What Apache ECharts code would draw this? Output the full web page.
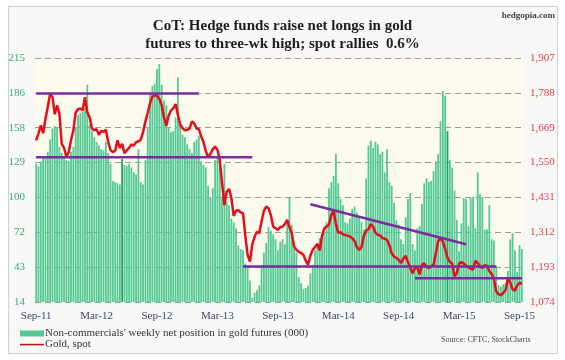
<!DOCTYPE html>
<html><head><meta charset="utf-8">
<script src="https://cdn.jsdelivr.net/npm/echarts@6/dist/echarts.min.js"></script>
<style>html,body{margin:0;padding:0;background:#fff}#c{width:565px;height:360px}</style>
</head><body><div id="c"></div>
<script>
// ---- data ----
const startDate = '2011-09-27';
const weekCount = 210;
const netPositions = [128,126,130,133,134,138,148,157,159,158,142,137,134,131,130,138,142,158,168,170,
171,174,193,160,155,150,146,143,140,139,146,137,128,114,113,112,111,132,127,126,
128,125,121,119,140,113,111,131,158,186,192,194,206,210,193,180,176,158,154,155,
166,199,160,152,150,144,140,137,146,148,151,130,127,125,110,100,108,131,133,130,
101,128,97,94,83,80,75,61,58,57,46,44,32,18,22,24,28,45,55,63,
76,73,70,66,57,64,66,62,79,100,78,63,55,35,30,25,26,28,38,45,
57,63,67,69,72,80,108,113,118,136,112,99,94,80,79,83,91,93,88,84,
80,74,116,143,147,141,146,144,136,138,121,140,113,110,96,82,78,66,62,84,
99,104,62,57,75,77,95,112,116,113,114,122,130,136,163,188,184,155,131,125,
106,82,56,79,100,99,77,100,101,75,121,103,101,74,74,94,66,65,44,28,
27,29,30,40,66,71,57,39,61,58];
const goldSpot = [1626,1650,1677,1650,1700,1740,1785,1775,1715,1745,1717,1614,1600,1570,1585,1626,1660,1720,1732,1735,
1728,1773,1722,1705,1666,1660,1664,1645,1658,1655,1662,1620,1592,1586,1590,1626,1600,1614,1582,1592,
1600,1612,1608,1620,1622,1628,1654,1690,1720,1752,1775,1780,1778,1768,1745,1705,1676,1710,1728,1735,
1750,1712,1680,1668,1660,1662,1666,1690,1684,1666,1664,1640,1620,1590,1568,1580,1595,1605,1594,1560,
1480,1405,1450,1460,1430,1368,1385,1388,1380,1377,1300,1235,1212,1270,1297,1314,1309,1350,1385,1400,
1394,1370,1332,1326,1320,1330,1331,1340,1354,1330,1309,1263,1252,1245,1241,1235,1215,1201,1232,1252,
1262,1272,1250,1300,1325,1332,1338,1370,1385,1340,1310,1312,1305,1303,1300,1298,1292,1282,1262,1252,
1262,1300,1318,1322,1340,1331,1310,1303,1302,1292,1290,1286,1268,1240,1229,1225,1218,1207,1222,1232,
1210,1190,1172,1190,1192,1168,1200,1206,1194,1190,1196,1202,1240,1282,1292,1280,1255,1225,1212,1205,
1162,1172,1205,1210,1205,1198,1192,1188,1184,1215,1207,1196,1190,1200,1198,1180,1170,1152,1110,1100,
1098,1105,1115,1155,1142,1118,1112,1130,1140,1135];
// weeks whose bar is drawn in a darker green in the reference
const darkBarWeeks = [37, 177];
// trend / support lines: [weekIndex, gold price]
const topResistance = [[0,1786],[70,1786]];
const midSupport = [[0,1568],[93,1568]];
const lowSupport = [[89,1195],[198,1195]];
const bottomSupport = [[163,1155],[209,1155]];
const downTrend = [[118,1408],[185,1271]];
const leftTicks = [14,43,72,100,129,158,186,215];
const rightTicks = [1074,1193,1312,1431,1550,1669,1788,1907];
const legendNames = ["Non-commercials' weekly net position in gold futures (000)", 'Gold, spot'];

// weekly categories
const categories = [];
{
  const d0 = new Date(startDate + 'T00:00:00Z');
  for (let i = 0; i < weekCount; i++) {
    const d = new Date(d0.getTime() + i * 7 * 86400000);
    categories.push(d.toISOString().slice(0, 10));
  }
}
const MONTHS = ['Jan','Feb','Mar','Apr','May','Jun','Jul','Aug','Sep','Oct','Nov','Dec'];
function fmtDate(s) {
  const p = s.split('-');
  return MONTHS[+p[1] - 1] + '-' + p[0].slice(2);
}

const SERIF = '"Liberation Serif","DejaVu Serif",serif';
const PURPLE = '#7a2d9c';
const BAR = '#55c995';
const chart = echarts.init(document.getElementById('c'), null, {renderer: 'canvas'});

const leftMin = 14.4, leftMax = leftTicks[leftTicks.length - 1];
const rightMin = rightTicks[0], rightMax = rightTicks[rightTicks.length - 1];

const barData = netPositions.map((v, i) =>
  darkBarWeeks.indexOf(i) >= 0 ? {value: v, itemStyle: {color: '#17a85a'}} : v);

function trend(name, data) {
  return {
    name: name, type: 'line', yAxisIndex: 1, data: data, symbol: 'none',
    lineStyle: {color: PURPLE, width: 2.5}, z: 5, silent: true, animation: false
  };
}

chart.setOption({
  animation: false,
  backgroundColor: '#ffffff',
  graphic: [
    {type: 'rect', shape: {x: 8.5, y: 6.5, width: 549, height: 347},
     style: {fill: '#f8f8f7', stroke: '#c9d5e3', lineWidth: 1.2}, z: -10},
    {type: 'text', right: 10, top: 11,
     style: {text: 'hedgopia.com', font: 'bold 9px ' + SERIF, fill: '#444'}},
    {type: 'text', left: 441, top: 336,
     style: {text: 'Source: CFTC, StockCharts', font: '8px ' + SERIF, fill: '#444'}}
  ],
  title: {
    text: 'CoT: Hedge funds raise net longs in gold\nfutures to three-wk high; spot rallies  0.6%',
    left: 'center', top: 12,
    textStyle: {fontFamily: SERIF, fontWeight: 'bold', fontSize: 15, lineHeight: 18, color: '#1e1e1e'}
  },
  legend: {
    data: [
      {name: legendNames[0], icon: 'rect', itemStyle: {color: BAR}},
      {name: legendNames[1], icon: 'path://M0,0L0,0M0,2.3L24,2.3L24,3.9L0,3.9ZM24,6L24,6', itemStyle: {color: '#c0101a'}}
    ],
    orient: 'vertical', left: 20, top: 328, padding: 0,
    itemWidth: 24, itemHeight: 6, itemGap: 0,
    textStyle: {fontFamily: SERIF, fontSize: 11, color: '#333', padding: [0, 0, 0, -4]}
  },
  grid: {left: 35, right: 42, top: 58, bottom: 58, show: true, backgroundColor: '#fcfbee', borderWidth: 0},
  xAxis: {
    type: 'category', data: categories, boundaryGap: true,
    axisLine: {show: false}, axisTick: {show: false},
    axisLabel: {
      interval: function (i) { return i % 26 === 0; },
      formatter: fmtDate, fontFamily: SERIF, fontSize: 11, color: '#3d4a66', margin: 9
    },
    splitLine: {show: false}
  },
  yAxis: [
    {
      type: 'value', min: leftMin, max: leftMax, interval: (leftMax - leftMin) / 7,
      axisLine: {show: false}, axisTick: {show: false},
      axisLabel: {formatter: v => String(Math.round(v)), fontFamily: SERIF, fontSize: 11, color: '#3aa878', margin: 10},
      splitLine: {show: true, lineStyle: {color: '#9a9a9a', type: [6, 4], width: 1}}
    },
    {
      type: 'value', min: rightMin, max: rightMax, interval: 119,
      axisLine: {show: false}, axisTick: {show: false},
      axisLabel: {formatter: v => Math.round(v).toLocaleString('en-US'), fontFamily: SERIF, fontSize: 11, color: '#e0404c', margin: 7},
      splitLine: {show: false}
    }
  ],
  series: [
    {
      name: legendNames[0], type: 'bar', data: barData, yAxisIndex: 0,
      barCategoryGap: '22%',
      itemStyle: {color: BAR}, z: 2
    },
    {
      name: legendNames[1], type: 'line', data: goldSpot, yAxisIndex: 1,
      symbol: 'none', lineStyle: {color: '#e50f1b', width: 2.5}, itemStyle: {color: '#c0101a'}, z: 4
    },
    trend('t1', topResistance),
    trend('t2', midSupport),
    trend('t3', lowSupport),
    trend('t4', bottomSupport),
    trend('t5', downTrend)
  ]
});
</script></body></html>
